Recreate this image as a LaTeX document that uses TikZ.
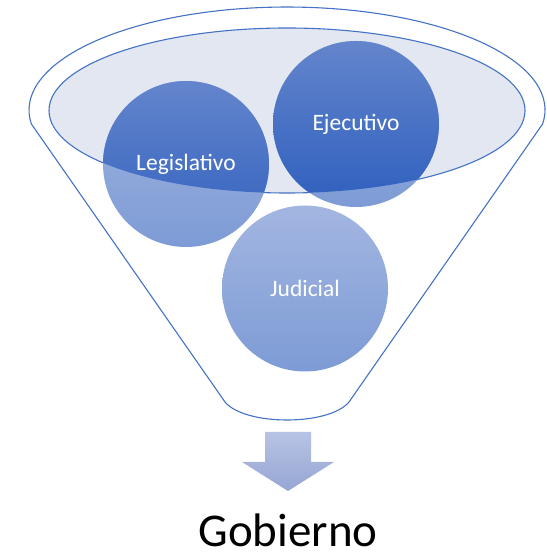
\documentclass[tikz,border=0pt]{standalone}
\usepackage{fontspec}
\setmainfont{Carlito}
\definecolor{fblue}{RGB}{68,114,196}
\definecolor{ellfill}{RGB}{226,231,242}
\definecolor{lighttop}{RGB}{163,182,225}
\definecolor{lightbot}{RGB}{125,155,213}
\definecolor{darktop}{RGB}{100,133,204}
\definecolor{darkbot}{RGB}{46,95,190}
\definecolor{arrtop}{RGB}{183,195,229}
\definecolor{arrbot}{RGB}{150,166,211}
\begin{document}
\begin{tikzpicture}[x=1pt,y=1pt,
  outline/.style={draw=fblue,line width=1.1pt},
  lightshade/.style={top color=lighttop,bottom color=lightbot},
  darkshade/.style={top color=darktop,bottom color=darkbot},
  ball/.style={circle,minimum size=166pt,inner sep=0pt,
    text=white,font=\fontsize{23.5}{26}\selectfont},
  arrowshape/.style={top color=arrtop,bottom color=arrbot}]
\useasboundingbox (0,0) rectangle (546,554);
% outer funnel
\draw[outline] (31.4,430) -- (225,152)
  .. controls (245,128) and (329,128) .. (349,152)
  -- (542.6,430)
  arc[start angle=-7.8, end angle=187.8, x radius=258pt, y radius=103pt] -- cycle;
% inner ellipse
\draw[outline,fill=ellfill] (287,443.5) ellipse [x radius=238pt, y radius=82.5pt];
% circles: light base
\shade[lightshade] (186,390) circle [radius=83pt];
\shade[lightshade] (356,430) circle [radius=83pt];
\shade[lightshade] (305,265.5) circle [radius=83pt];
% darker part inside the ellipse
\begin{scope}
  \clip (287,443.5) ellipse [x radius=238pt, y radius=82.5pt];
  \shade[darkshade] (186,390) circle [radius=83pt];
  \shade[darkshade] (356,430) circle [radius=83pt];
\end{scope}
% labels
\node[ball] (leg) at (186,390) {Legislativo};
\node[ball] (eje) at (356,430) {Ejecutivo};
\node[ball] (jud) at (305,265.5) {Judicial};
% arrow
\shade[arrowshape] (265,122) -- (311,122) -- (311,92) -- (334,92) -- (288,63)
  -- (242,92) -- (265,92) -- cycle;
% result
\node[anchor=base,font=\fontsize{47}{52}\selectfont,inner sep=0pt] (gob) at (288,8) {Gobierno};
\end{tikzpicture}
\end{document}
